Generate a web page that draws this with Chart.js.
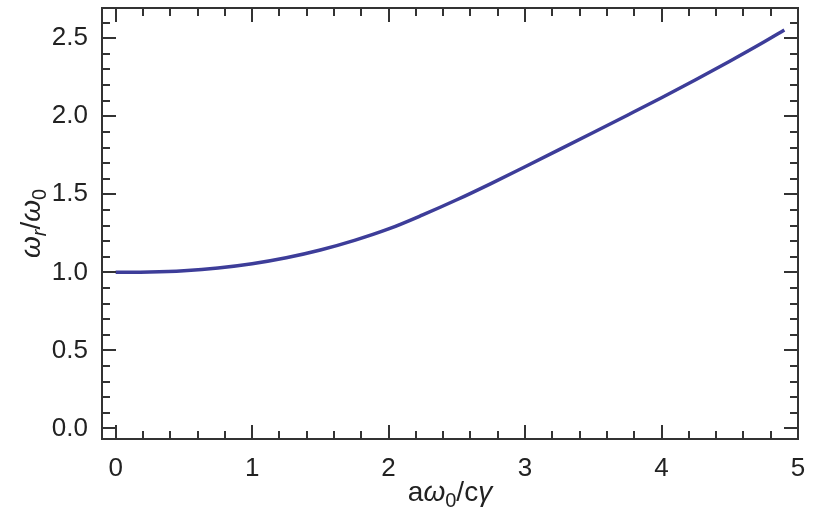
<!DOCTYPE html>
<html>
<head>
<meta charset="utf-8">
<script src="https://cdn.jsdelivr.net/npm/chart.js@4.4.1/dist/chart.umd.min.js"></script>
<style>
html, body { margin: 0; padding: 0; background: #fff; }
#wrap { width: 819px; height: 510px; }
</style>
</head>
<body>
<div id="wrap"><canvas id="chart"></canvas></div>
<script>
// curve: aω0/cγ -> ωr/ω0
const xValues = [0, 0.25, 0.5, 0.75, 1.0, 1.25, 1.5, 1.75, 2.0, 2.25, 2.5, 2.75, 3.0, 3.25, 3.5, 3.75, 4.0, 4.25, 4.5, 4.75, 4.9];
const yValues = [1.0, 1.0024, 1.0109, 1.0279, 1.0551, 1.0933, 1.143, 1.2048, 1.278, 1.368, 1.465, 1.569, 1.677, 1.786, 1.896, 2.007, 2.119, 2.234, 2.353, 2.476, 2.553];

const xTicks = [0, 1, 2, 3, 4, 5];
const xTickLabels = ['0', '1', '2', '3', '4', '5'];
const yTicks = [0, 0.5, 1, 1.5, 2, 2.5];
const yTickLabels = ['0.0', '0.5', '1.0', '1.5', '2.0', '2.5'];

const FONT = "'Liberation Sans', Arial, Helvetica, sans-serif";
const INK = '#333';

// frame with inward major/minor ticks on all four sides
const frameTicks = {
    id: 'frameTicks',
    afterDraw(chart) {
        const { ctx, chartArea: a, scales } = chart;
        const xs = scales.x, ys = scales.y;
        ctx.save();
        ctx.strokeStyle = INK;
        ctx.lineWidth = 2;
        ctx.beginPath();
        for (let i = 0; i <= 25; i++) {
            const v = i * 0.2;
            if (v < xs.min || v > xs.max) continue;
            const len = i % 5 === 0 ? 14 : 8;
            const px = Math.round(xs.getPixelForValue(v));
            ctx.moveTo(px, a.bottom); ctx.lineTo(px, a.bottom - len);
            ctx.moveTo(px, a.top); ctx.lineTo(px, a.top + len);
        }
        for (let i = 0; i <= 27; i++) {
            const v = i * 0.1;
            if (v < ys.min || v > ys.max) continue;
            const len = i % 5 === 0 ? 14 : 8;
            const py = Math.round(ys.getPixelForValue(v));
            ctx.moveTo(a.left, py); ctx.lineTo(a.left + len, py);
            ctx.moveTo(a.right, py); ctx.lineTo(a.right - len, py);
        }
        ctx.stroke();
        ctx.strokeRect(a.left, a.top, a.right - a.left, a.bottom - a.top);
        ctx.restore();
    }
};

// axis titles with subscripts
function drawRich(ctx, segs, size) {
    const fontOf = s => (s.i ? 'italic ' : '') + Math.round(s.sub ? size * 0.7 : size) + 'px ' + FONT;
    let w = 0;
    segs.forEach(s => { ctx.font = fontOf(s); w += ctx.measureText(s.t).width; });
    let x = -w / 2;
    segs.forEach(s => {
        ctx.font = fontOf(s);
        ctx.fillText(s.t, x, s.sub ? size * 0.22 : 0);
        x += ctx.measureText(s.t).width;
    });
}

const axisTitles = {
    id: 'axisTitles',
    afterDraw(chart) {
        const { ctx, chartArea: a } = chart;
        ctx.save();
        ctx.fillStyle = '#222';
        ctx.textBaseline = 'alphabetic';
        ctx.textAlign = 'left';
        ctx.translate((a.left + a.right) / 2, 501);
        drawRich(ctx, [{ t: 'a' }, { t: 'ω', i: 1 }, { t: '0', sub: 1 }, { t: '/c' }, { t: 'γ', i: 1 }], 28);
        ctx.restore();

        ctx.save();
        ctx.fillStyle = '#222';
        ctx.textBaseline = 'alphabetic';
        ctx.textAlign = 'left';
        ctx.translate(40, (a.top + a.bottom) / 2);
        ctx.rotate(-Math.PI / 2);
        drawRich(ctx, [{ t: 'ω', i: 1 }, { t: 'r', i: 1, sub: 1 }, { t: '/' }, { t: 'ω', i: 1 }, { t: '0', sub: 1 }], 28);
        ctx.restore();
    }
};

const noPad = s => { s.paddingTop = 0; s.paddingBottom = 0; s.paddingLeft = 0; s.paddingRight = 0; };

const ctx = document.getElementById('chart');
new Chart(ctx, {
    type: 'line',
    data: {
        datasets: [{
            data: xValues.map((x, i) => ({ x: x, y: yValues[i] })),
            borderColor: 'rgb(61, 61, 153)',
            borderWidth: 3.5,
            pointRadius: 0,
            fill: false,
            cubicInterpolationMode: 'monotone'
        }]
    },
    options: {
        responsive: true,
        maintainAspectRatio: false,
        animation: false,
        layout: { padding: { left: 0, right: 21, top: 8, bottom: 0 } },
        scales: {
            x: {
                type: 'linear',
                min: -0.1,
                max: 5.0,
                afterBuildTicks: s => { s.ticks = xTicks.map(v => ({ value: v })); },
                afterFit: s => { s.height = 71; noPad(s); },
                grid: { display: false },
                border: { display: false },
                ticks: {
                    autoSkip: false,
                    maxRotation: 0,
                    padding: 6,
                    color: '#222',
                    font: { family: FONT, size: 26 },
                    callback: v => xTickLabels[xTicks.indexOf(v)]
                }
            },
            y: {
                type: 'linear',
                min: -0.068,
                max: 2.694,
                afterBuildTicks: s => { s.ticks = yTicks.map(v => ({ value: v })); },
                afterFit: s => { s.width = 102; noPad(s); },
                grid: { display: false },
                border: { display: false },
                ticks: {
                    autoSkip: false,
                    padding: 6,
                    color: '#222',
                    font: { family: FONT, size: 26 },
                    callback: v => yTickLabels[yTicks.indexOf(v)]
                }
            }
        },
        plugins: {
            legend: { display: false },
            tooltip: { enabled: false }
        }
    },
    plugins: [frameTicks, axisTitles]
});
</script>
</body>
</html>
